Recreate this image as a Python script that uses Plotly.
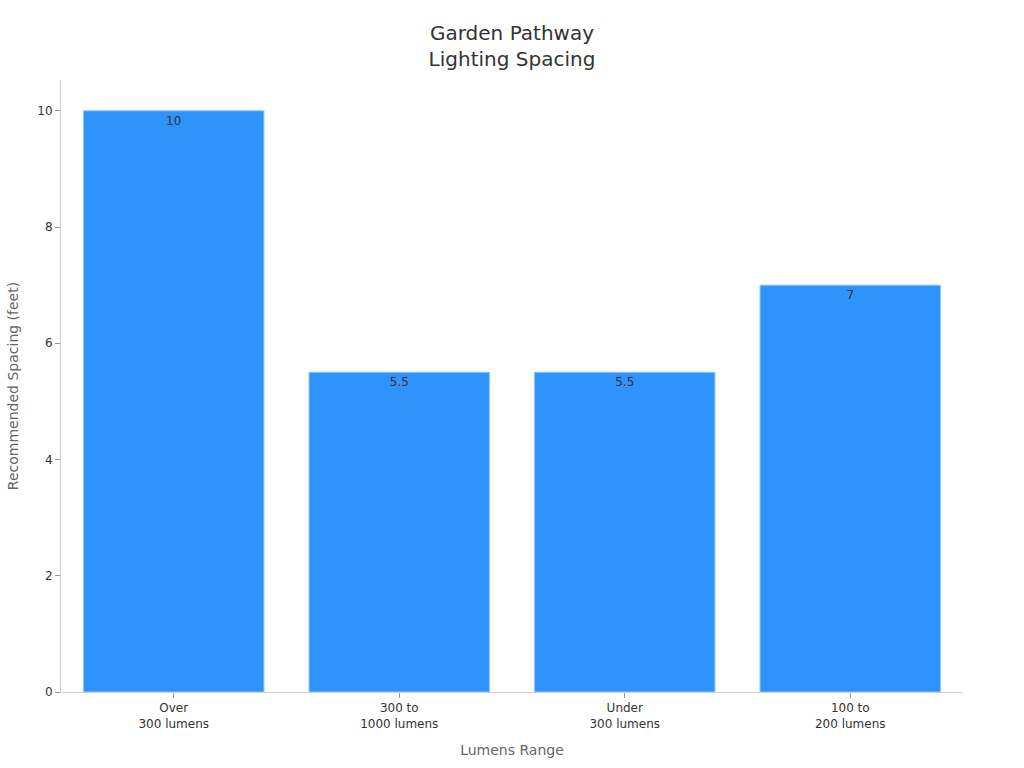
import plotly.graph_objects as go

categories = ["Over<br>300 lumens", "300 to<br>1000 lumens", "Under<br>300 lumens", "100 to<br>200 lumens"]
spacing_feet = [10, 5.5, 5.5, 7]
y_ticks = [0, 2, 4, 6, 8, 10]

fig = go.Figure(go.Bar(
    x=categories,
    y=spacing_feet,
    text=[str(v) for v in spacing_feet],
    textposition="inside",
    insidetextanchor="end",
    textfont=dict(color="#333333", size=12),
    marker=dict(color="#2E93FA", line=dict(color="#8CC4FC", width=1)),
))

fig.update_layout(
    width=1024, height=768,
    font=dict(family="DejaVu Sans", color="#333333"),
    title=dict(text="Garden Pathway<br>Lighting Spacing", x=0.5, xanchor="center", y=0.948, yanchor="top",
               font=dict(size=20, color="#333333")),
    margin=dict(l=61, r=61, t=80, b=76),
    plot_bgcolor="white", paper_bgcolor="white",
    bargap=0.2,
    showlegend=False,
    xaxis=dict(title=dict(text="Lumens Range", font=dict(size=14, color="#666666")),
               showline=True, linecolor="#d0d0d0", ticks="outside", tickcolor="#999999", ticklen=5,
               tickfont=dict(size=12, color="#333333")),
    yaxis=dict(title=dict(text="Recommended Spacing (feet)", font=dict(size=14, color="#666666")),
               range=[0, 10.53], tickvals=y_ticks, showgrid=False, zeroline=False,
               showline=True, linecolor="#d0d0d0", ticks="outside", tickcolor="#999999", ticklen=5,
               tickfont=dict(size=12, color="#333333")),
)

fig.write_html("out.html", config={"displayModeBar": False},
               post_script="document.body.style.margin='0';document.body.style.overflow='hidden';")
